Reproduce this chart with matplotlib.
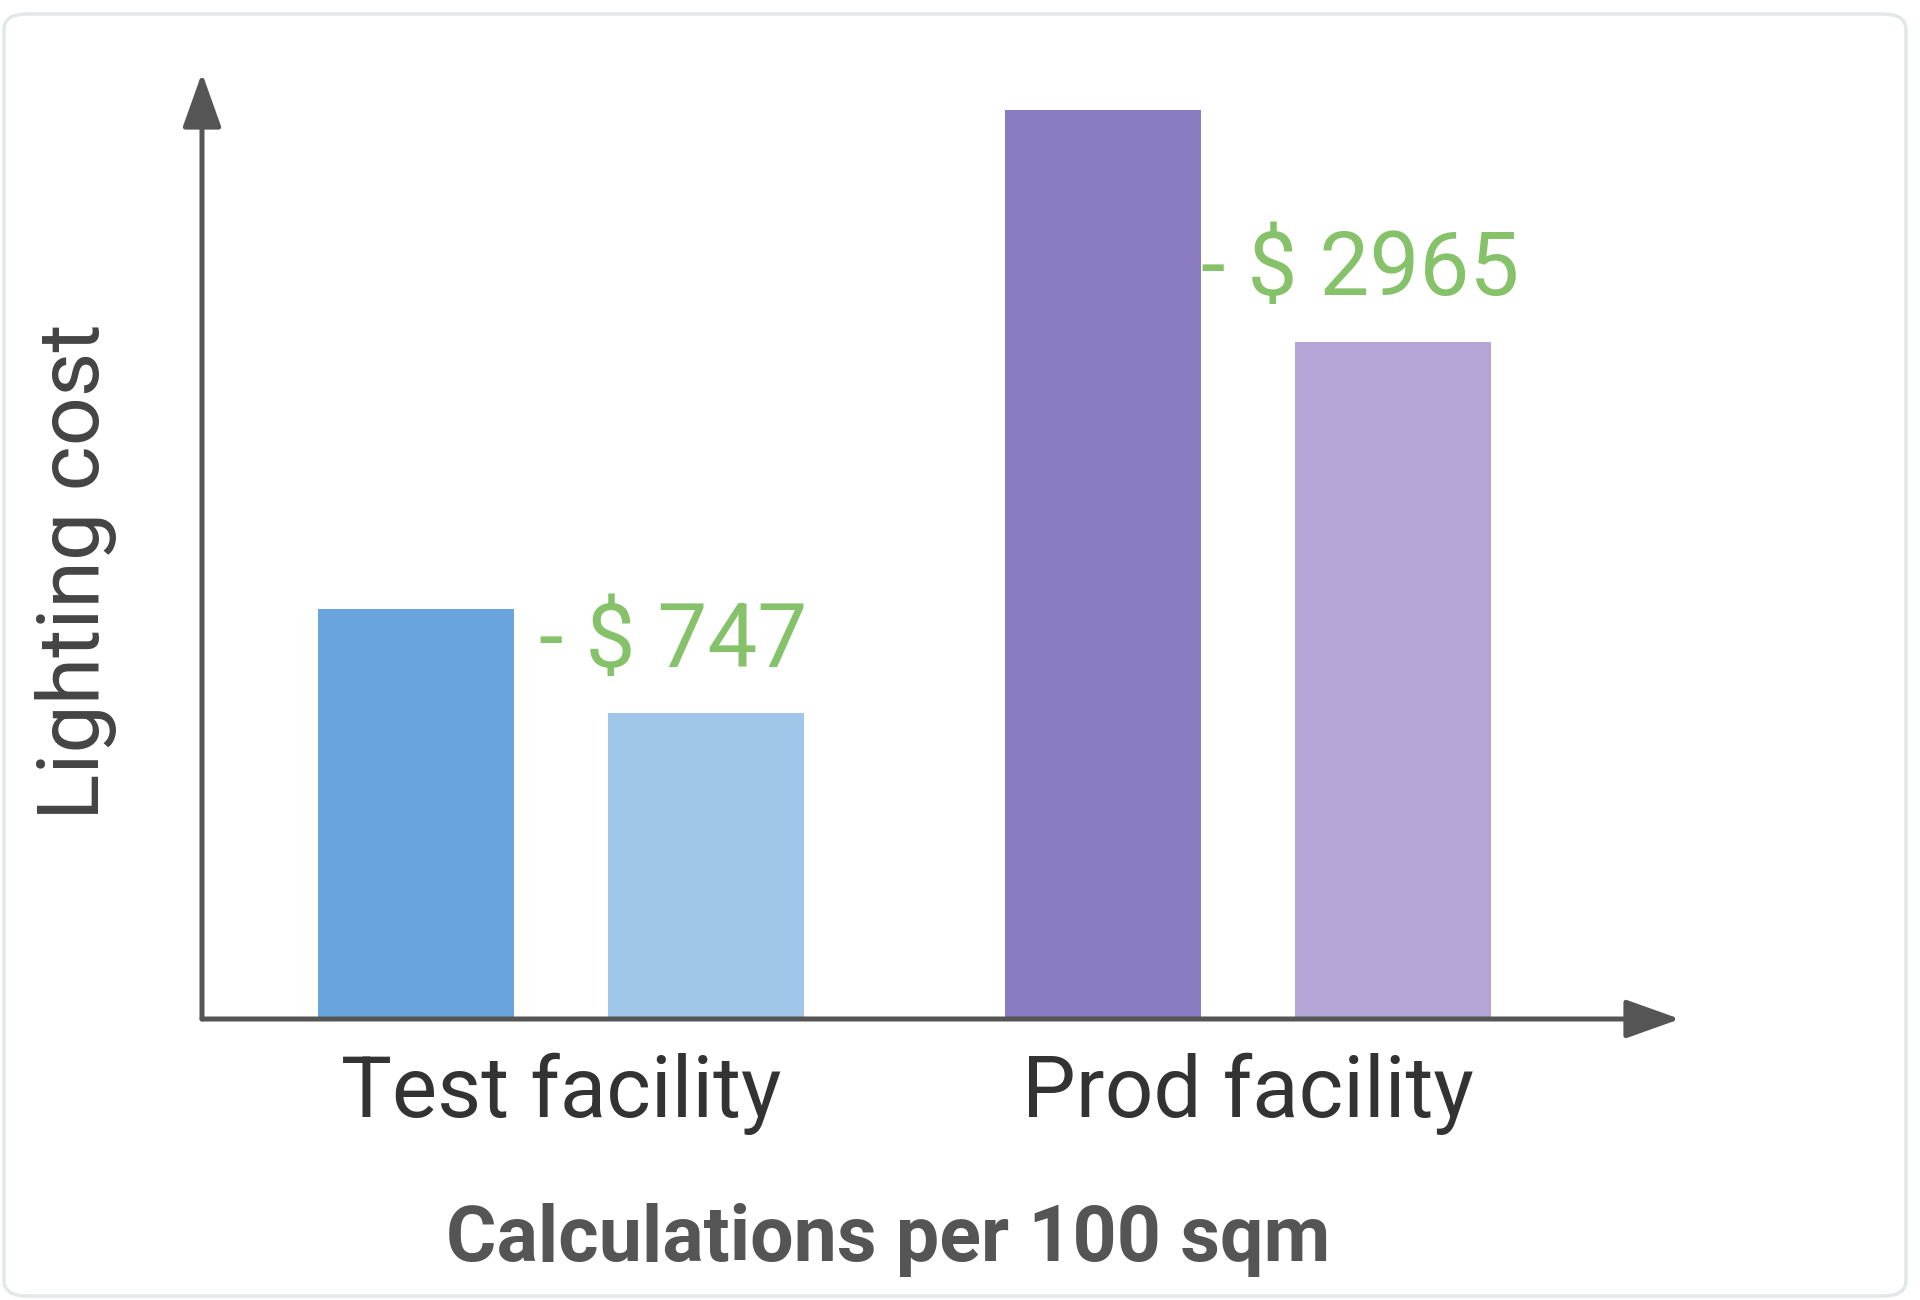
import matplotlib
matplotlib.use("Agg")
import matplotlib.pyplot as plt
from matplotlib.patches import FancyBboxPatch, FancyArrowPatch
import numpy as np

plt.rcParams['font.family'] = ['Roboto', 'DejaVu Sans']

# ------------------- data (relative bar heights) -------------------
groups = ["Test facility", "Prod facility"]
before = [410, 909]          # current lighting cost (relative units)
after = [306, 677]           # cost after change (relative units)
savings = ["- $ 747", "- $ 2965"]

col_before = ["#6aa4dd", "#8b7bc3"]
col_after = ["#a0c6ea", "#b4a5d6"]

W, H = 1920, 1300
fig = plt.figure(figsize=(W / 100, H / 100), dpi=100)

# faint rounded card border
card = FancyBboxPatch((4 / W, 4 / H), 1902 / W, 1282 / H,
                      boxstyle="round,pad=0,rounding_size=0.012",
                      transform=fig.transFigure, facecolor="white",
                      edgecolor="#e2e7e7", linewidth=2.5, zorder=-10)
fig.patches.append(card)

# axes placed so the arrows sit where they are in the picture
x0, x1, ytop, ybase = 202, 1680, 73, 1019
ax = fig.add_axes([x0 / W, (H - ybase) / H, (x1 - x0) / W, (ybase - ytop) / H])
ax.set_facecolor("none")

xc = np.arange(len(groups))
off, bw = 0.211, 0.285
ax.bar(xc - off, before, width=bw, color=col_before, zorder=2)
ax.bar(xc + off, after, width=bw, color=col_after, zorder=2)
ax.set_xlim(-0.522, 1.628)
ax.set_ylim(0, 946)

# saving labels next to the taller bar
dx_pts = [18, 0]
for i, s in enumerate(savings):
    ax.annotate(s, xy=(xc[i] - off + bw / 2, after[i] + 71), xytext=(dx_pts[i], 0),
                textcoords="offset points", ha="left", va="center",
                fontsize=64, color="#86c26a", zorder=1)

for sp in ax.spines.values():
    sp.set_visible(False)
ax.set_yticks([])
ax.set_xticks(xc)
ax.set_xticklabels(groups, fontsize=61.5, color="#333333")
ax.tick_params(axis="x", length=0, pad=24)

# axis arrows
for end in [(0, 1), (1, 0)]:
    arr = FancyArrowPatch((0, 0), end, transform=ax.transAxes,
                          arrowstyle="-|>,head_length=0.42,head_width=0.15",
                          mutation_scale=80, color="#555555", linewidth=3.6,
                          shrinkA=0, shrinkB=0, clip_on=False, zorder=5)
    ax.add_patch(arr)

fig.text(76 / W, 1 - 572 / H, "Lighting cost", rotation=90, ha="center", va="center",
         fontsize=62, color="#444444")
fig.text(888 / W, 1 - 1240 / H, "Calculations per 100 sqm", ha="center", va="center",
         fontsize=55.5, fontweight="bold", color="#555555")

fig.savefig("out.png", dpi=100)
